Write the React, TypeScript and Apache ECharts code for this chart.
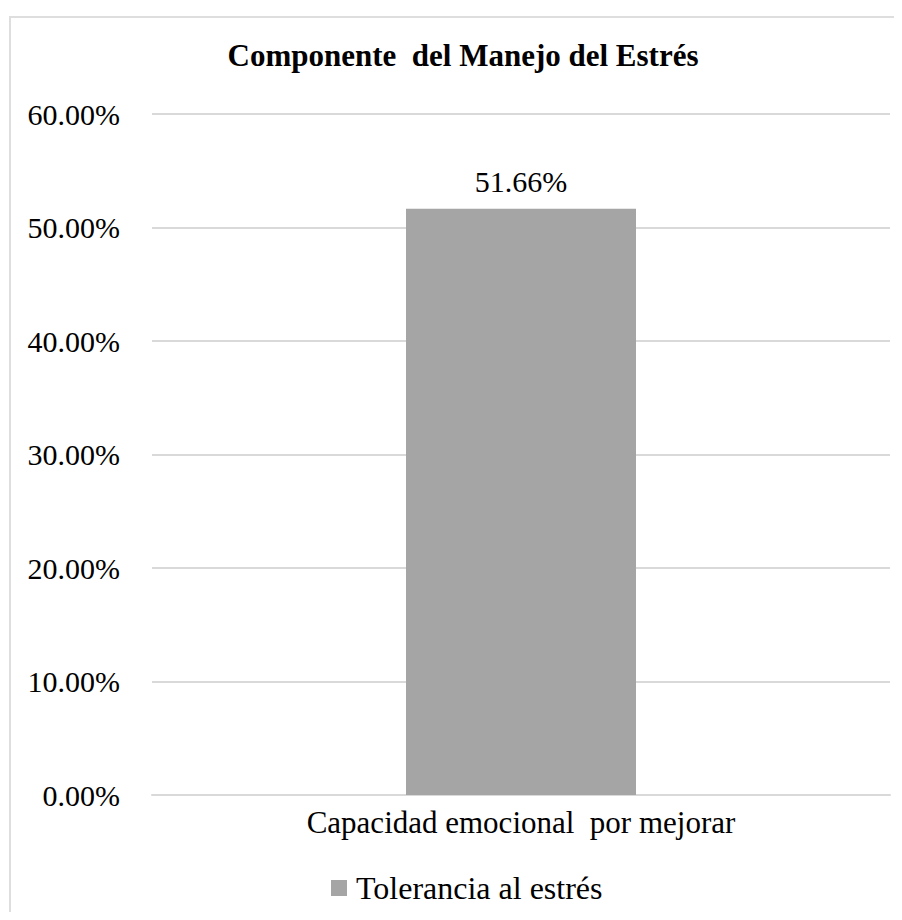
import React, { useEffect, useRef } from "react";
import * as echarts from "echarts";

const categories = ["Capacidad emocional  por mejorar"];
const seriesName = "Tolerancia al estrés";
const values = [0.5166];
const titleText = "Componente  del Manejo del Estrés";

const FONT = "Liberation Serif";

export default function App() {
  const ref = useRef<HTMLDivElement>(null);
  useEffect(() => {
    if (!ref.current) return;
    const chart = echarts.init(ref.current, null, { renderer: "svg" });
    chart.setOption({
      animation: false,
      backgroundColor: "transparent",
      title: {
        text: titleText,
        left: "center",
        top: 27,
        textStyle: { fontFamily: FONT, fontSize: 31, fontWeight: "bold", color: "#000" },
      },
      legend: {
        top: 859,
        left: 318,
        data: [seriesName],
        icon: "rect",
        itemWidth: 16,
        itemHeight: 16,
        itemGap: 10,
        textStyle: { fontFamily: FONT, fontSize: 32, color: "#000", padding: [0, 0, 0, 4] },
      },
      grid: { left: 144, right: 28, top: 106, bottom: 117, containLabel: false },
      xAxis: {
        type: "category",
        data: categories,
        axisLine: { lineStyle: { color: "#d9d9d9", width: 2 } },
        axisTick: { show: false },
        axisLabel: { fontFamily: FONT, fontSize: 31, color: "#000", margin: 12 },
      },
      yAxis: {
        type: "value",
        min: 0,
        max: 0.6,
        interval: 0.1,
        axisLine: { show: false },
        axisTick: { show: false },
        splitLine: { lineStyle: { color: "#d9d9d9", width: 2 } },
        axisLabel: {
          fontFamily: FONT,
          fontSize: 30,
          color: "#000",
          margin: 32,
          formatter: (v: number) => (v * 100).toFixed(2) + "%",
        },
      },
      series: [
        {
          name: seriesName,
          type: "bar",
          data: values,
          barWidth: 230,
          itemStyle: { color: "#a5a5a5" },
          label: {
            show: true,
            position: "top",
            distance: 12,
            fontFamily: FONT,
            fontSize: 30,
            color: "#000",
            formatter: (p: any) => (p.value * 100).toFixed(2) + "%",
          },
        },
      ],
    });
    return () => chart.dispose();
  }, []);
  return (
    <div style={{ position: "relative", width: 894, height: 904, overflow: "hidden", background: "#fff" }}>
      <div ref={ref} style={{ position: "absolute", left: 0, top: 0, width: 910, height: 904 }} />
      <div
        style={{
          position: "absolute",
          left: 1,
          top: 8,
          width: 2000,
          height: 2000,
          borderLeft: "2px solid #dedede",
          borderTop: "2px solid #dedede",
          pointerEvents: "none",
        }}
      />
    </div>
  );
}
